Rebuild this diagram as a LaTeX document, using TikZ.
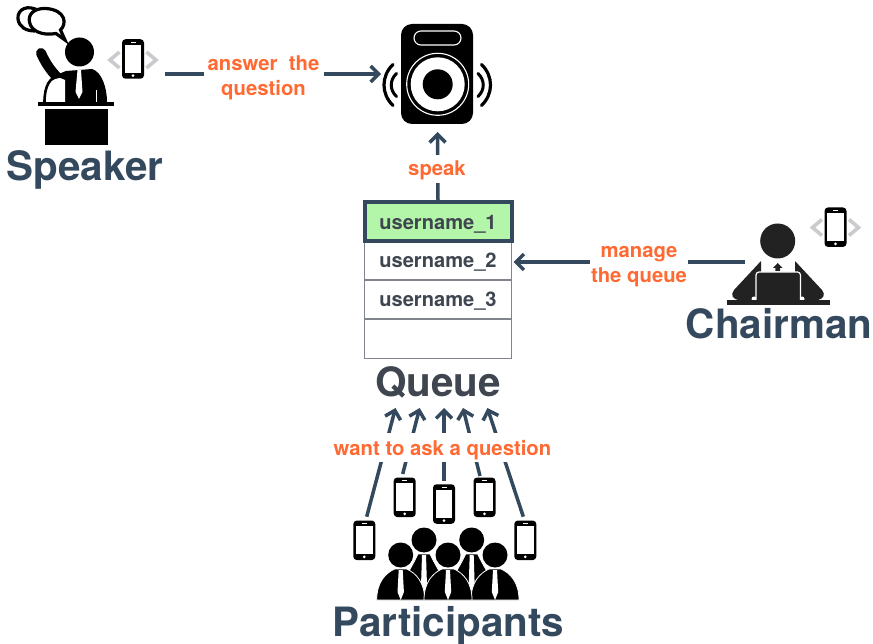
\documentclass[tikz,border=0pt]{standalone}
\usepackage{fontspec}
\setmainfont{TeX Gyre Heros}
\usetikzlibrary{arrows.meta}
\definecolor{navy}{HTML}{34495E}
\definecolor{flame}{HTML}{FF6A33}
\definecolor{slatetext}{HTML}{3F4650}
\definecolor{rowline}{HTML}{7F858A}
\definecolor{rowgreen}{HTML}{B4F6A9}
\definecolor{chev}{HTML}{C9CBCE}
\definecolor{ink}{HTML}{222222}
\tikzset{
  x=1pt,y=-1pt,
  title/.style={font=\fontsize{40.4}{48}\selectfont\bfseries,text=navy,anchor=base,inner sep=0pt},
  tag/.style={font=\fontsize{20.3}{25}\selectfont\bfseries,text=flame,fill=white,align=center,inner sep=0pt},
  flow/.style={draw=navy,line width=3.5pt,-{Straight Barb[length=8pt,width=16pt]}},
  row/.style={draw=rowline,line width=1.2pt,fill=white,minimum width=147pt,minimum height=39pt,inner sep=0pt,
    text height=20pt,text depth=5pt,font=\fontsize{20.1}{24}\selectfont\bfseries,text=slatetext},
  phonebody/.style={fill=black,rounded corners=3.5pt,minimum width=22pt,minimum height=39.5pt,inner sep=0pt},
  chevron/.style={draw=chev,line width=3.6pt,line join=miter},
  man/.style={fill=black,draw=white,line width=0.8pt},
}
\newcommand\phonenode[3]{%
  \node[phonebody] (#1) at (#2,#3) {};
  \fill[white] (#2-8.3,#3-14) rectangle (#2+8.3,#3+14);
  \fill[white] (#2-2.5,#3-17) rectangle (#2+2.5,#3-16.2);
  \fill[white] (#2,#3+16.6) circle (1.5);
}
\newcommand\chevrons[2]{%
  \draw[chevron] (#1-13.5,#2-8) -- (#1-23,#2) -- (#1-13.5,#2+8);
  \draw[chevron] (#1+13.5,#2-8) -- (#1+23,#2) -- (#1+13.5,#2+8);
}
\newcommand\frontman[2]{% cx, head y
  \filldraw[man] (#1-24,600) .. controls (#1-24,582) and (#1-15,573) .. (#1-6,#2+14)
     -- (#1+6,#2+14) .. controls (#1+15,573) and (#1+24,582) .. (#1+24,600) -- cycle;
  \fill[white] (#1-2,#2+15) -- (#1+2,#2+15) -- (#1+3.2,592) -- (#1,600) -- (#1-3.2,592) -- cycle;
  \fill[black] (#1,#2) circle (12.5);
}
\begin{document}
\begin{tikzpicture}
\useasboundingbox (0,0) rectangle (873,644);

% ---------- speaker figure
\draw[line width=3.2pt] (39,11) .. controls (28,4) and (17,9) .. (18,19) .. controls (19,27) and (26,31) .. (35,31);
\draw[line width=3.2pt,fill=white] (46,8.5) .. controls (33,8) and (28,15) .. (29.5,22)
   .. controls (31,31) and (42,36) .. (56,33.5) -- (65,40) -- (60.5,30)
   .. controls (67,24) and (66,10) .. (46,8.5) -- cycle;
\fill (79.5,52) circle (14.5);
\draw[line width=10pt,line cap=round] (41,53) .. controls (45,62) and (50,70) .. (58,78);
\fill (54,76) -- (66,71) -- (92,69) .. controls (102,72) and (107,88) .. (107,102) -- (54,102) -- cycle;
\fill[white] (77.5,70) -- (81,70) -- (82.5,92) -- (79,99) -- (75.5,92) -- cycle;
\draw[white,line width=1pt] (96,90) -- (96,102);
\fill[white] (46,102) .. controls (46,85) and (50,79) .. (60,78) -- (65,80) -- (65,102) -- cycle;
\draw[line width=2.6pt] (44.5,102) .. controls (44.5,86) and (50,76) .. (60,76.5);
\fill (38,102) rectangle (114,106.5);
\fill (45,109) rectangle (108,145);
\chevrons{133}{60}
\phonenode{spkphone}{133}{59}
\node[title] (spkname) at (85,181) {Speaker};

% ---------- loudspeaker
\node[fill=black,rounded corners=11pt,minimum width=72pt,minimum height=100pt,inner sep=0pt] (box) at (437,74) {};
\draw[white,line width=1.1pt,rounded corners=7pt] (414,31) rectangle (461,45);
\draw[white,line width=1.1pt] (437.7,84.3) circle (31);
\fill[white] (437.7,84.3) circle (27);
\fill[black] (437.7,84.3) circle (15);
\draw[line width=3pt,line cap=round] (396.5,73.5) .. controls (389.5,80) and (389.5,90) .. (396.5,96.5);
\draw[line width=3.2pt,line cap=round] (393,64.5) .. controls (381,76) and (381,94) .. (393,105.5);
\draw[line width=3pt,line cap=round] (478,73.5) .. controls (485,80) and (485,90) .. (478,96.5);
\draw[line width=3.2pt,line cap=round] (481.5,64.5) .. controls (493.5,76) and (493.5,94) .. (481.5,105.5);
\coordinate (boxleft) at (381,74);
\coordinate (boxbottom) at (437.5,132);

% ---------- queue
\node[row] (r2) at (438,260.5) {username\_2};
\node[row] (r3) at (438,299.5) {username\_3};
\node[row] (r4) at (438,338.7) {};
\node[row,draw=navy,line width=4pt,fill=rowgreen] (r1) at (438,221.7) {username\_1};
\node[title,text=slatetext] (qname) at (438,396) {Queue};

% ---------- chairman
\fill[ink] (777.7,241) circle (17.5);
\fill[ink] (761,261) -- (761,276) -- (756,300) -- (738,300) .. controls (733,299) and (730,295) .. (734,290) -- cycle;
\fill[ink] (795,261) -- (795,276) -- (801,300) -- (818,300) .. controls (823,299) and (826,295) .. (822,290) -- cycle;
\fill[ink] (777.7,263) -- (782.5,268) -- (780,268) -- (780,271) -- (775.4,271) -- (775.4,268) -- (773,268) -- cycle;
\fill[white] (754,299) circle (2.5);
\fill[white] (802,299) circle (2.5);
\filldraw[fill=ink,draw=white,line width=1.2pt,rounded corners=3pt] (756,301) -- (756,272) -- (800.5,272) -- (800.5,301);
\fill[ink] (727.3,300.3) rectangle (829.7,304.7);
\chevrons{835.5}{227.5}
\phonenode{chrphone}{835.5}{227.2}
\node[title] (chrname) at (779,338) {Chairman};

% ---------- participants
\frontman{424}{540}
\frontman{471.7}{540}
\frontman{400.7}{555}
\frontman{495}{555}
\frontman{448}{555}
\phonenode{p1}{364.3}{540.3}
\phonenode{p2}{404.7}{497.3}
\phonenode{p3}{444}{504}
\phonenode{p4}{484.5}{497.3}
\phonenode{p5}{525.3}{540.3}
\node[title] (parts) at (448.5,636) {Participants};

\coordinate (a1) at (395.5,408);
\coordinate (a2) at (419.7,408);
\coordinate (a3) at (444,408);
\coordinate (a4) at (463,408);
\coordinate (a5) at (487.4,408);
\coordinate (b1) at (366.7,516.7);
\coordinate (b2) at (402.7,474);
\coordinate (b3) at (444,480.7);
\coordinate (b4) at (480,476);
\coordinate (b5) at (523.3,516.7);

% ---------- connectors
\draw[flow] (b1) -- (a1);
\draw[flow] (b2) -- (a2);
\draw[flow] (b3) -- (a3);
\draw[flow] (b4) -- (a4);
\draw[flow] (b5) -- (a5);
\node[tag,minimum width=224pt,minimum height=29pt,text height=21pt,text depth=5pt] (want) at (442.5,447.5) {want to ask a question};

\coordinate (spkout) at (165,74);
\draw[flow] (spkout) -- (boxleft);
\node[tag,minimum width=120pt,minimum height=50pt] (answer) at (263.5,78) {answer\ \ the\\question};

\draw[flow] (r1.north) -- (boxbottom);
\node[tag,minimum width=64pt,minimum height=28pt,text height=18pt,text depth=5pt] (speak) at (437,169.5) {speak};

\coordinate (chrin) at (745,262);
\coordinate (rowin) at (513.5,262);
\draw[flow] (chrin) -- (rowin);
\node[tag,minimum width=98pt,minimum height=50pt] (manage) at (639,266.5) {manage\\the queue};
\end{tikzpicture}
\end{document}
